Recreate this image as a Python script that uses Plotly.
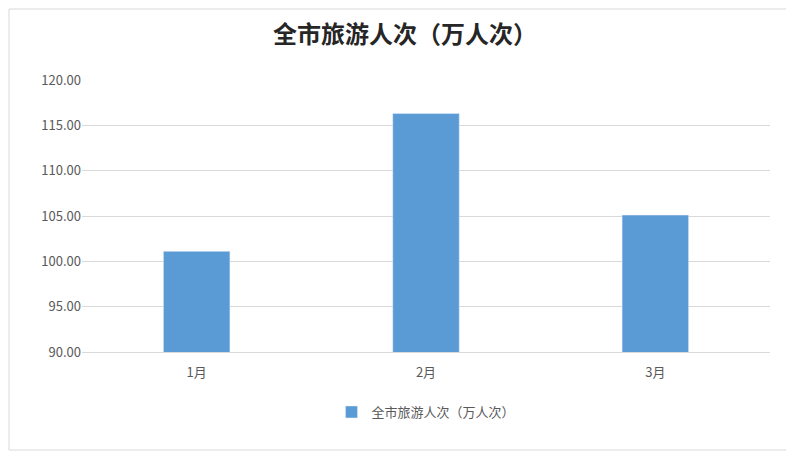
import plotly.graph_objects as go

categories = ["1月", "2月", "3月"]
values = [101.1, 116.3, 105.1]
series_name = "全市旅游人次（万人次）"
tick_vals = [90, 95, 100, 105, 110, 115, 120]

# page has ~8px body offset; margins compensate
L, R, T, B, W, H = 74, 32, 72, 108, 794, 452
pw, ph = W - L - R, H - T - B

fig = go.Figure(go.Bar(x=categories, y=values, name=series_name, marker_color="#5b9bd5", showlegend=True))
fig.update_layout(
    width=W, height=H,
    margin=dict(l=L, r=R, t=T, b=B),
    paper_bgcolor="white", plot_bgcolor="white",
    font=dict(family="Noto Sans CJK SC", color="#595959", size=13),
    title=dict(text="<b>" + series_name + "</b>", x=0.5, xanchor="center", y=1 - 27 / H, yanchor="middle",
               font=dict(size=24, color="#262626", family="Noto Sans CJK SC")),
    bargap=0.71,
    legend=dict(orientation="h", x=0.5, xanchor="center", y=-(412 - 352) / ph, yanchor="middle", font=dict(size=13)),
    shapes=[dict(type="rect", xref="paper", yref="paper", x0=-(L - 1) / pw, x1=1 + (R - 10) / pw,
                 y0=-(B - 10) / ph, y1=1 + (T - 1) / ph, line=dict(color="#d9d9d9", width=1))],
)
fig.update_yaxes(range=[90, 120], tickvals=tick_vals, tickformat=".2f", gridcolor="#d9d9d9",
                 zeroline=False, showline=False, ticks="", ticklen=0)
fig.update_xaxes(showline=True, linecolor="#d9d9d9", ticks="outside", ticklen=8, tickcolor="rgba(0,0,0,0)")
fig.write_html("out.html")
